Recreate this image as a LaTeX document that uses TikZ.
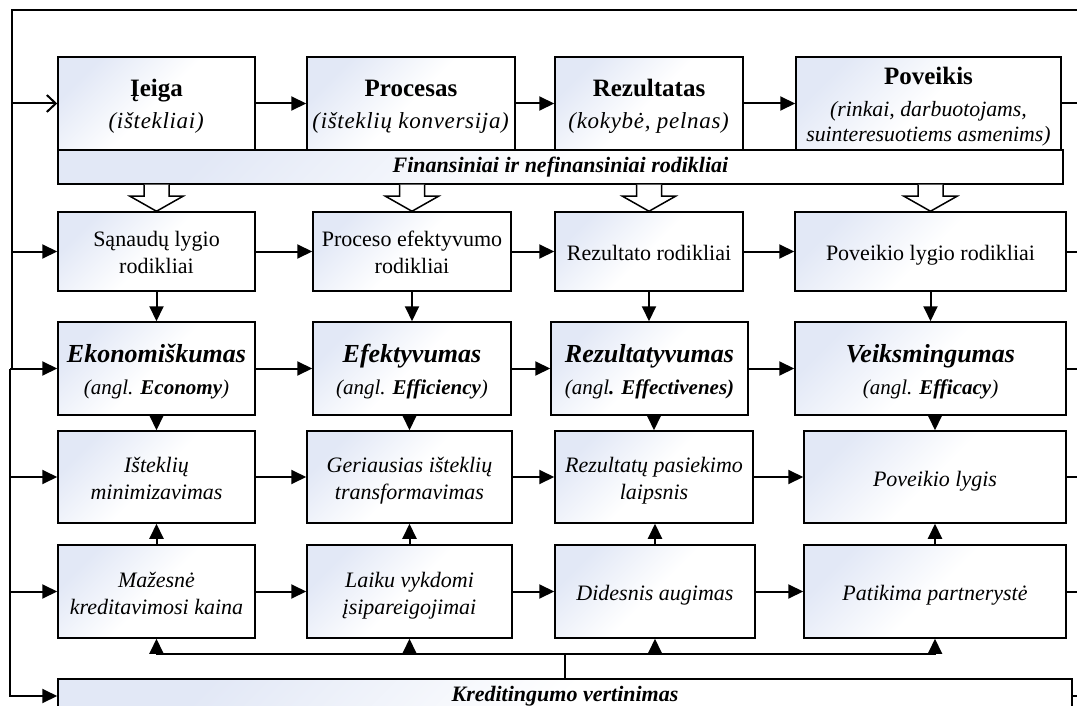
\documentclass[tikz,border=0pt]{standalone}
\usepackage{fontspec}
\setmainfont{Liberation Serif}
\usetikzlibrary{arrows.meta,calc}
\definecolor{boxblue}{RGB}{226,232,246}

\tikzset{
  box/.style={draw, line width=0.75pt, inner sep=0pt, align=center,
    top color=boxblue, bottom color=white, middle color=white, shading angle=45},
  bx/.style 2 args={box, minimum width=#1*0.5pt, minimum height=#2*0.5pt},
  conn/.style={line width=1pt},
  arr/.style={conn, -{Triangle[length=7.5pt,width=7pt]}},
  openarr/.style={conn, -{Straight Barb[length=4.5pt,width=8.5pt,line width=1pt]}},
  hollow/.style={draw, fill=white, line width=0.75pt, line join=miter},
  topfont/.style={font=\fontsize{11.5}{16}\selectfont},
  midfont/.style={font=\fontsize{11}{13.5}\selectfont},
  keyfont/.style={font=\fontsize{10.5}{16}\selectfont},
  itfont/.style={font=\fontsize{11}{13.5}\selectfont\itshape},
  barfont/.style={font=\fontsize{11}{13}\selectfont\bfseries\itshape},
}
% fixed line ascent on the first line and fixed descent on the last one
\newcommand{\tp}[1]{\rule{0pt}{#1}}
\newcommand{\bd}{\rule[-3pt]{0pt}{0pt}}
\newcommand{\ttl}[1]{{\fontsize{12.5}{16}\selectfont\bfseries #1}}
\newcommand{\kttl}[1]{{\fontsize{13}{16}\selectfont\bfseries\itshape #1}}
\newcommand{\spaced}[1]{{\addfontfeatures{LetterSpace=3}#1}}

\begin{document}
\begin{tikzpicture}[x=0.5pt, y=-0.5pt]
\useasboundingbox (0,0) rectangle (1077,706);
\clip (0,0) rectangle (1077,706);

% row 1: input, process, result, impact
\node[bx={197}{93}, topfont] (i1) at (156.5,103.5) {\tp{11.8pt}\ttl{Įeiga}\\\textit{\spaced{(ištekliai)}}\bd};
\node[bx={208}{93}, topfont] (i2) at (411,103.5) {\tp{11.8pt}\ttl{Procesas}\\\textit{\spaced{(išteklių konversija)}}\bd};
\node[bx={188}{93}, topfont] (i3) at (649,103.5) {\tp{11.8pt}\ttl{Rezultatas}\\\textit{\spaced{(kokybė, pelnas)}}\bd};
\node[bx={265}{93}, font=\fontsize{10.9}{12.5}\selectfont] (i4) at (928.5,103.5)
  {\tp{12.8pt}{\fontsize{12.5}{12.5}\selectfont\bfseries Poveikis}\\[3.5pt]\textit{(rinkai, darbuotojams,}\\\textit{suinteresuotiems asmenims)}\bd};
\node[bx={1005}{34}, barfont] (fin) at (560.5,167) {Finansiniai ir nefinansiniai rodikliai};

% row 2: indicators
\node[bx={197}{79}, midfont] (s1) at (156.5,251.5) {\tp{11.5pt}Sąnaudų lygio\\rodikliai\bd};
\node[bx={198}{79}, midfont] (s2) at (412,251.5) {\tp{11.5pt}Proceso efektyvumo\\rodikliai\bd};
\node[bx={188}{79}, midfont] (s3) at (649,251.5) {\tp{11.5pt}Rezultato rodikliai\bd};
\node[bx={271}{79}, midfont] (s4) at (930.5,251.5) {\tp{11.5pt}Poveikio lygio rodikliai\bd};

% row 3: the four E's
\node[bx={197}{93}, keyfont] (e1) at (156.5,368.5) {\tp{12.8pt}\kttl{Ekonomiškumas}\\\textit{(angl. \textbf{Economy})}\bd};
\node[bx={198}{93}, keyfont] (e2) at (412,368.5) {\tp{12.8pt}\kttl{Efektyvumas}\\\textit{(angl. \textbf{Efficiency})}\bd};
\node[bx={197}{93}, keyfont] (e3) at (649.5,368.5) {\tp{12.8pt}\kttl{Rezultatyvumas}\\\textit{(angl\textbf{. Effectivenes)}}\bd};
\node[bx={271}{93}, keyfont] (e4) at (930.5,368.5) {\tp{12.8pt}\kttl{Veiksmingumas}\\\textit{(angl. \textbf{Efficacy})}\bd};

% row 4
\node[bx={197}{92}, itfont] (r1) at (156.5,477) {\tp{12pt}Išteklių\\minimizavimas\bd};
\node[bx={205}{92}, itfont] (r2) at (409.5,477) {\tp{12pt}Geriausias išteklių\\transformavimas\bd};
\node[bx={198}{92}, itfont] (r3) at (654,477) {\tp{12pt}Rezultatų pasiekimo\\laipsnis\bd};
\node[bx={262}{92}, itfont] (r4) at (935,477) {\tp{12pt}Poveikio lygis\bd};

% row 5
\node[bx={197}{93}, itfont] (m1) at (156.5,591.5) {\tp{12pt}Mažesnė\\kreditavimosi kaina\bd};
\node[bx={205}{93}, itfont] (m2) at (409.5,591.5) {\tp{12pt}Laiku vykdomi\\įsipareigojimai\bd};
\node[bx={200}{93}, itfont] (m3) at (655,591.5) {\tp{12pt}Didesnis augimas\bd};
\node[bx={262}{93}, itfont] (m4) at (935,591.5) {\tp{12pt}Patikima partnerystė\bd};

% creditworthiness assessment bar
\node[bx={1014}{34}, barfont] (kred) at (565,696) {Kreditingumo vertinimas};

% frame coordinates
\coordinate (Rtop) at (1090,10);
\coordinate (Ltop) at (12,10);
\coordinate (Lb) at (10,368.5);
\coordinate (R) at (1090,0);

% horizontal flow in each row
\foreach \a/\b in {i1/i2,i2/i3,i3/i4,s1/s2,s2/s3,s3/s4,e1/e2,e2/e3,e3/e4,r1/r2,r2/r3,r3/r4,m1/m2,m2/m3,m3/m4}
  \draw[arr] (\a.east) -- (\a.east -| \b.west);

% block arrows from the indicator bar
\foreach \bx in {s1,s2,s3,s4}
  \draw[hollow] let \p1=(\bx.north), \p2=(fin.south) in
    (\x1-6.25pt,\y2) -- (\x1-6.25pt,\y1+7.5pt) -- (\x1-13.25pt,\y1+7.5pt) -- (\x1,\y1)
    -- (\x1+13.25pt,\y1+7.5pt) -- (\x1+6.25pt,\y1+7.5pt) -- (\x1+6.25pt,\y2);

% vertical links between rows
\foreach \a/\b in {s1/e1,s2/e2,s3/e3,s4/e4}
  \draw[arr] (\a.south) -- (\a.south |- \b.north);
\foreach \a/\b in {e1/r1,e2/r2,e3/r3,e4/r4}
  \draw[arr] (\b.north |- \a.south) -- (\b.north);
\foreach \a/\b in {m1/r1,m2/r2,m3/r3,m4/r4}
  \draw[arr] (\a.north) -- (\a.north |- \b.south);

% bus from the creditworthiness bar
\coordinate (bus) at ($(kred.north)+(0,12pt)$);
\draw[conn] (kred.north) -- (bus);
\foreach \bx in {m1,m2,m3,m4}
  \draw[arr] (bus) -| (\bx.south);

% upper feedback loop
\draw[conn] (Rtop) -- (Ltop) -- (Ltop |- e1.west);
\draw[openarr] (Ltop |- i1.west) -- (i1.west);
\draw[arr] (Ltop |- s1.west) -- (s1.west);
\draw[arr] (Lb) -- (e1.west);

% lower feedback loop
\draw[arr] (Lb) |- (kred.west);
\draw[arr] (Lb |- r1.west) -- (r1.west);
\draw[arr] (Lb |- m1.west) -- (m1.west);

% exits on the right
\foreach \bx in {i4,s4,e4,r4,m4,kred}
  \draw[conn] (\bx.east) -- (\bx.east -| R);
\end{tikzpicture}
\end{document}
